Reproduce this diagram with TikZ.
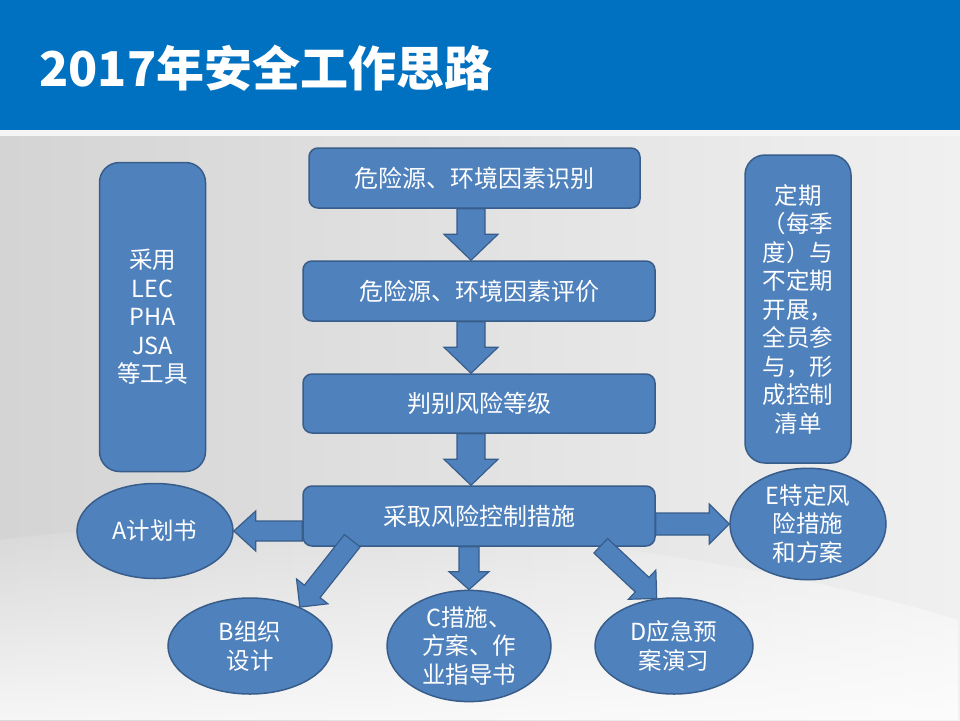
\documentclass[tikz,border=0pt]{standalone}
\usepackage{fontspec}
\setmainfont{Noto Sans CJK SC}
\usetikzlibrary{calc,shapes.geometric,fadings}
\definecolor{titleblue}{HTML}{0070C0}
\definecolor{boxfill}{HTML}{4F81BD}
\definecolor{boxline}{HTML}{385D8A}
\definecolor{bgdark}{HTML}{D4D4D4}
\definecolor{bglight}{HTML}{F0F0F0}
\tikzset{
  stepbox/.style={draw=boxline, line width=1.5pt, fill=boxfill, rounded corners=9pt,
    text=white, font=\fontsize{24}{28}\selectfont, inner sep=0pt},
  sidebox/.style={draw=boxline, line width=1.5pt, fill=boxfill, rounded corners=20pt,
    text=white, font=\fontsize{23.5}{28.5}\selectfont, inner sep=0pt, align=center,
    minimum width=106pt, minimum height=308pt},
  leaf/.style={ellipse, draw=boxline, line width=1.5pt, fill=boxfill, text=white,
    font=\fontsize{23.5}{28.5}\selectfont, inner sep=0pt, align=center},
  arrowstyle/.style={draw=boxline, line width=1.2pt, fill=boxfill, line join=miter}
}
% block arrow: #1 shaft half width, #2 head half width, #3 head length, #4 from, #5 to
\newcommand\barrow[5]{%
  \coordinate (bahb) at ($(#5)!#3!(#4)$);
  \filldraw[arrowstyle] ($(#4)!#1!90:(#5)$) -- ($(bahb)!#1!90:(#5)$) -- ($(bahb)!#2!90:(#5)$)
    -- (#5) -- ($(bahb)!#2!-90:(#5)$) -- ($(bahb)!#1!-90:(#5)$) -- ($(#4)!#1!-90:(#5)$) -- cycle;
}
\begin{document}
\begin{tikzpicture}[x=1pt,y=-1pt]
\useasboundingbox (0,0) rectangle (960,720);
% background
\shade[left color=bgdark, right color=bglight] (0,130) rectangle (960,720);
\fill[white, path fading=north, opacity=0.8] (0,540) .. controls (300,500) and (700,540) .. (960,620) -- (960,720) -- (0,720) -- cycle;
\fill[white!92!gray] (0,130) rectangle (960,136);
\fill[titleblue] (0,0) rectangle (960,130);
\node[anchor=west, text=white, font=\fontsize{48}{52}\selectfont\bfseries] (title) at (36,68) {2017年安全工作思路};

% main column
\node[stepbox, minimum width=331pt, minimum height=60pt] (s1) at (474.5,178) {危险源、环境因素识别};
\node[stepbox, minimum width=352pt, minimum height=60pt] (s2) at (479,291) {危险源、环境因素评价};
\node[stepbox, minimum width=352pt, minimum height=59pt] (s3) at (479,403.5) {判别风险等级};
\node[stepbox, minimum width=352pt, minimum height=60pt] (s4) at (479,516) {采取风险控制措施};

% side boxes
\node[sidebox, minimum height=309pt] (L) at (152.5,317) {采用\\LEC\\PHA\\JSA\\等工具};
\node[sidebox] (R) at (798,309) {定期\\（每季\\度）与\\不定期\\开展，\\全员参\\与，形\\成控制\\清单};

% leaves
\node[leaf, minimum width=156pt, minimum height=95pt] (A) at (155,531) {A计划书};
\node[leaf, minimum width=164pt, minimum height=96pt] (B) at (250,646) {B组织\\设计};
\node[leaf, minimum width=164pt, minimum height=96pt] (C) at (469,646) {C措施、\\方案、作\\业指导书};
\node[leaf, minimum width=158pt, minimum height=96pt] (D) at (674,646) {D应急预\\案演习};
\node[leaf, minimum width=156pt, minimum height=97pt] (E) at (808,524) {E特定风\\险措施\\和方案};

% vertical arrows
\coordinate (ax) at (471,0);
\coordinate (v1a) at (s1.south -| ax);
\coordinate (v1b) at (s2.north -| ax);
\coordinate (v2a) at (s2.south -| ax);
\coordinate (v2b) at (s3.north -| ax);
\coordinate (v3a) at (s3.south -| ax);
\coordinate (v3b) at (s4.north -| ax);
\barrow{14pt}{27pt}{26pt}{v1a}{v1b}
\barrow{14pt}{27pt}{26pt}{v2a}{v2b}
\barrow{14pt}{27pt}{26pt}{v3a}{v3b}

% branches
\coordinate (aA) at (s4.west |- A.east);
\coordinate (aE) at (s4.east |- E.west);
\coordinate (aC) at (s4.south -| C.north);
\coordinate (aB) at ($(s4.south west)+(50,-6)$);
\coordinate (aD) at ($(s4.south east)+(-55,-1)$);
\barrow{10pt}{20pt}{22pt}{aA}{A.east}
\barrow{11pt}{20pt}{20pt}{aE}{E.west}
\barrow{10pt}{20pt}{18pt}{aC}{C.north}
\barrow{10pt}{20pt}{20pt}{aB}{B.38}
\barrow{10pt}{20pt}{20pt}{aD}{D.110}
\end{tikzpicture}
\end{document}
